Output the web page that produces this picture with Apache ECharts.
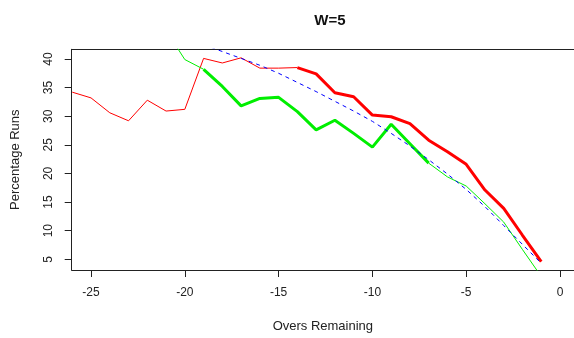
<!DOCTYPE html>
<html>
<head>
<meta charset="utf-8">
<script src="https://cdn.jsdelivr.net/npm/echarts@6/dist/echarts.min.js"></script>
<style>
html,body{margin:0;padding:0;background:#fff;}
#chart{width:574px;height:338px;}
</style>
</head>
<body>
<div id="chart"></div>
<script>
// ---- data ----
const titleText = "W=5";
const xTicks = [-25, -20, -15, -10, -5, 0];
const yTicks = [5, 10, 15, 20, 25, 30, 35, 40];

const redOvers = [-26,-25,-24,-23,-22,-21,-20,-19,-18,-17,-16,-15,-14,-13,-12,-11,-10,-9,-8,-7,-6,-5,-4,-3,-2,-1];
const redRuns  = [34.2,33.2,30.6,29.2,32.8,30.9,31.2,40.1,39.3,40.2,38.4,38.4,38.5,37.4,34.1,33.4,30.2,29.9,28.7,25.8,23.8,21.6,17.1,13.9,9.2,4.6];
const redThickFrom = -14;

const greenOvers = [-21,-20,-19,-18,-17,-16,-15,-14,-13,-12,-11,-10,-9,-8,-7,-6,-5,-4,-3,-2,-1];
const greenRuns  = [45.0,39.9,38.2,35.2,31.8,33.1,33.3,30.8,27.6,29.3,27.0,24.6,28.6,25.2,21.8,19.4,17.8,14.7,11.5,6.7,2.0];
const greenThickFrom = -19;
const greenThickTo = -7;

const blueOvers = [-19,-18,-17,-16,-15,-14,-13,-12,-11,-10,-9,-8,-7,-6,-5,-4,-3,-2,-1];
const blueRuns  = [42.5,41.3,40.1,38.9,37.5,35.9,34.3,32.6,30.9,29.1,27.0,24.8,22.4,19.9,17.2,14.2,10.9,7.6,4.3];

// ---- build ----
function pairs(xs, ys, lo, hi) {
  const out = [];
  for (let i = 0; i < xs.length; i++) {
    if (xs[i] >= lo && xs[i] <= hi) out.push([xs[i], ys[i]]);
  }
  return out;
}
const FONT = "Liberation Sans, Arial, sans-serif";
const TXT = "#222";
const AX = '#222';

function line(name, data, color, width, dash) {
  return {
    name, type: 'line', data, symbol: 'none', showSymbol: false,
    clip: true, silent: true,
    lineStyle: { color, width, type: dash ? [4, 4] : 'solid' },
    z: 2
  };
}

const chart = echarts.init(document.getElementById('chart'), null, { renderer: 'canvas' });
chart.setOption({
  animation: false,
  backgroundColor: '#fff',
  title: {
    text: titleText, left: 325, top: 8, textAlign: 'center',
    textStyle: { fontFamily: FONT, fontSize: 15, fontWeight: 'bold', color: '#111' }
  },
  grid: {
    left: 71.7, top: 49.3, bottom: 68, right: 0,
    show: false
  },
  xAxis: [{
    type: 'value', min: -26.03, max: 0.746, position: 'bottom',
    axisLine: { show: true, onZero: false, lineStyle: { color: AX, width: 1 } },
    splitLine: { show: false },
    axisTick: { show: true, inside: false, length: 7, customValues: xTicks, lineStyle: { color: AX } },
    axisLabel: { show: true, margin: 17, customValues: xTicks, fontFamily: FONT, fontSize: 12, color: TXT },
    name: 'Overs Remaining', nameLocation: 'middle', nameGap: 50,
    nameTextStyle: { fontFamily: FONT, fontSize: 13, color: TXT }
  }, {
    type: 'value', min: -26.03, max: 0.746, position: 'top',
    axisLine: { show: true, onZero: false, lineStyle: { color: AX, width: 1 } },
    axisTick: { show: false }, axisLabel: { show: false }, splitLine: { show: false }
  }],
  yAxis: {
    type: 'value', min: 3.13, max: 41.69, position: 'left',
    axisLine: { show: true, onZero: false, lineStyle: { color: AX, width: 1 } },
    splitLine: { show: false },
    axisTick: { show: true, inside: false, length: 7, customValues: yTicks, lineStyle: { color: AX } },
    axisLabel: { show: true, rotate: 90, margin: 17, customValues: yTicks, fontFamily: FONT, fontSize: 12, color: TXT },
    name: 'Percentage Runs', nameLocation: 'middle', nameGap: 50,
    nameTextStyle: { fontFamily: FONT, fontSize: 13, color: TXT }
  },
  series: [
    line('red-thin', pairs(redOvers, redRuns, -100, redThickFrom), '#ff0000', 1, false),
    line('red-thick', pairs(redOvers, redRuns, redThickFrom, 100), '#ff0000', 3, false),
    line('green-thin-a', pairs(greenOvers, greenRuns, -100, greenThickFrom), '#00ee00', 1, false),
    line('green-thick', pairs(greenOvers, greenRuns, greenThickFrom, greenThickTo), '#00ee00', 3, false),
    line('green-thin-b', pairs(greenOvers, greenRuns, greenThickTo, 100), '#00ee00', 1, false),
    line('blue-dashed', pairs(blueOvers, blueRuns, -100, 100), '#0000ff', 1, true)
  ]
});
</script>
</body>
</html>
